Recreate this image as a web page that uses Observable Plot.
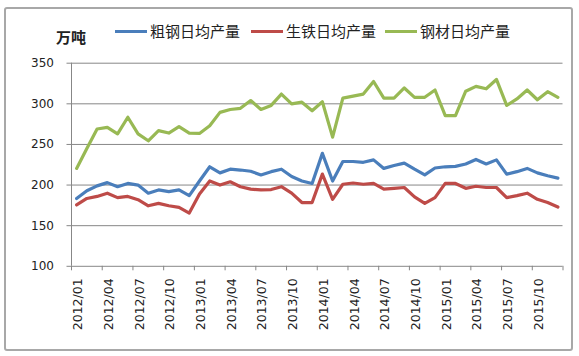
<!DOCTYPE html>
<html>
<head>
<meta charset="utf-8">
<script src="https://cdn.jsdelivr.net/npm/d3@7"></script>
<script src="https://cdn.jsdelivr.net/npm/@observablehq/plot@0.6"></script>
<style>
  body { margin: 0; background: #fff; }
  #wrap { position: relative; width: 579px; height: 356px; overflow: hidden; background: #fff; }
  #frame { position: absolute; left: 4px; top: 7px; width: 569px; height: 344px; box-sizing: border-box;
           border: 2px solid #a8a8a8; border-radius: 3px; pointer-events: none; }
  #legend { position: relative; height: 50px; font-family: "Noto Sans CJK SC", sans-serif; color: #222; }
  #legend .unit { position: absolute; left: 56px; top: 27px; font-size: 15px; font-weight: bold; line-height: 20px; }
  #legend .item { position: absolute; top: 21px; font-size: 15px; line-height: 20px; display: flex; align-items: center; white-space: nowrap; }
  #legend .sw { display: inline-block; width: 32px; height: 3px; margin-right: 3px; }
  svg { display: block; }
</style>
</head>
<body>
<div id="wrap">
  <div id="legend"></div>
  <div id="frame"></div>
</div>
<script>
// Category labels (months)
const months = [
  "2012/01","2012/02","2012/03","2012/04","2012/05","2012/06","2012/07","2012/08","2012/09","2012/10","2012/11","2012/12",
  "2013/01","2013/02","2013/03","2013/04","2013/05","2013/06","2013/07","2013/08","2013/09","2013/10","2013/11","2013/12",
  "2014/01","2014/02","2014/03","2014/04","2014/05","2014/06","2014/07","2014/08","2014/09","2014/10","2014/11","2014/12",
  "2015/01","2015/02","2015/03","2015/04","2015/05","2015/06","2015/07","2015/08","2015/09","2015/10","2015/11","2015/12"
];
// Tick labels shown on the x axis
const tickLabels = ["2012/01","2012/04","2012/07","2012/10","2013/01","2013/04","2013/07","2013/10",
                    "2014/01","2014/04","2014/07","2014/10","2015/01","2015/04","2015/07","2015/10"];
const yTicks = [100, 150, 200, 250, 300, 350];

const seriesNames = ["粗钢日均产量", "生铁日均产量", "钢材日均产量"];
const seriesColors = ["#4a7ebb", "#be4b48", "#98b954"];

// 粗钢日均产量
const crudeSteel = [183.5,193,199,203,198,202,200,190,194,192,194,187,
                    205,222.5,215,219.5,218.5,217,212.5,216.5,219.5,210.5,205,202,
                    239,205,229,229,228,231,220.5,224,227,219.5,212.5,221,
                    222.5,223,226,231.5,226,231,213.5,216.5,220.5,215,211.5,208.5];
// 生铁日均产量
const pigIron = [175.5,183.5,186,190,184.5,186,182,174.5,177.5,174.5,172.5,165.5,
                 189,205,200,204,198,195,194,194.5,198,190,178.5,178.5,
                 213.5,182.5,201,202.5,201,202,195,196,197,185.5,177.5,184.5,
                 202,202,196,198.5,197,197,184.5,187,190,182.5,178.5,173];
// 钢材日均产量
const steelProducts = [220.5,245,269,271,263,283.5,263,254.5,267,264,272,264,
                       263.5,273,289.5,293,294.5,304,293,298,312,300,302,291.5,
                       302.5,259,307,309.5,312,327.5,307,307,319.5,308,308,317,
                       285.5,285.5,315.5,321.5,318.5,330,298,306,317,305,315,308];

const seriesValues = [crudeSteel, pigIron, steelProducts];

// Legend (HTML, above the SVG)
const legend = document.getElementById("legend");
const unit = document.createElement("div");
unit.className = "unit";
unit.textContent = "万吨";
legend.appendChild(unit);
const legendLeft = [115, 251, 385];
seriesNames.forEach((name, k) => {
  const it = document.createElement("div");
  it.className = "item";
  it.style.left = legendLeft[k] + "px";
  const sw = document.createElement("span");
  sw.className = "sw";
  sw.style.background = seriesColors[k];
  const tx = document.createElement("span");
  tx.textContent = name;
  it.appendChild(sw);
  it.appendChild(tx);
  legend.appendChild(it);
});

// Build tidy rows
const rows = [];
seriesValues.forEach((vals, k) => {
  vals.forEach((v, i) => rows.push({series: seriesNames[k], idx: i + 0.5, month: months[i], value: v}));
});
const boundaries = d3.range(0, months.length + 1, 3);
const gridColor = "#878787";

const chart = Plot.plot({
  width: 579,
  height: 306,
  marginTop: 12.7,
  marginBottom: 90.2,
  marginLeft: 71,
  marginRight: 16.5,
  style: {fontFamily: "'DejaVu Sans', sans-serif", color: "#222", background: "transparent"},
  x: {type: "linear", domain: [0, months.length], axis: null},
  y: {domain: [100, 350], axis: null},
  color: {domain: seriesNames, range: seriesColors},
  marks: [
    Plot.ruleY(yTicks.filter(d => d > 100), {y: d => d, stroke: gridColor, strokeWidth: 1}),
    Plot.ruleY([100], {y: d => d, stroke: gridColor, strokeWidth: 1}),
    Plot.ruleX([0], {x: d => d, stroke: gridColor, strokeWidth: 1}),
    Plot.ruleX(boundaries, {x: d => d, y1: 100, y2: 100, insetBottom: -4.5, stroke: gridColor, strokeWidth: 1}),
    Plot.axisY(yTicks, {label: null, tickSize: 4.5, tickPadding: 13, fontSize: 12, stroke: gridColor, fill: "#222", color: "#222"}),
    Plot.line(rows, {x: "idx", y: "value", z: "series", stroke: "series", strokeWidth: 3.2, strokeLinejoin: "round", strokeLinecap: "round"}),
    Plot.text(tickLabels, {
      x: (d) => months.indexOf(d) + 0.5,
      frameAnchor: "bottom",
      text: d => d,
      rotate: -90,
      textAnchor: "end",
      lineAnchor: "middle",
      dy: 12,
      dx: 1.5,
      fontSize: 12.5,
      fill: "#222"
    })
  ]
});
document.getElementById("wrap").insertBefore(chart, document.getElementById("frame"));
</script>
</body>
</html>
